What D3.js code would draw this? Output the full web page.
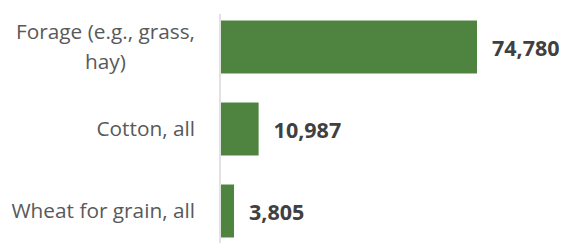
<!DOCTYPE html>
<html>
<head>
<meta charset="utf-8">
<script src="https://cdn.jsdelivr.net/npm/d3@7"></script>
<style>
  html, body { margin: 0; padding: 0; background: #fff; }
  svg { display: block; }
</style>
</head>
<body>
<svg id="chart" width="568" height="243"></svg>
<script>
const categories = [["Forage (e.g., grass,", "hay)"], ["Cotton, all"], ["Wheat for grain, all"]];
const categoryKeys = ["Forage", "Cotton", "Wheat"];
const values = [74780, 10987, 3805];

const svg = d3.select("#chart");
const axisX = 220;

const x = d3.scaleLinear().domain([0, 74780]).range([axisX + 1, 477]);
const y = d3.scaleBand().domain(categoryKeys).range([6, 252])
  .paddingInner(0.354).paddingOuter(0.177);

// bars
svg.selectAll("rect.bar").data(values).enter().append("rect")
  .attr("class", "bar")
  .attr("x", x(0))
  .attr("y", (d, i) => y(categoryKeys[i]))
  .attr("width", d => x(d) - x(0))
  .attr("height", y.bandwidth())
  .attr("fill", "#4E843F");

// axis line
svg.append("line")
  .attr("x1", axisX).attr("x2", axisX)
  .attr("y1", 14).attr("y2", 243)
  .attr("stroke", "#d9d9d9").attr("stroke-width", 1.5);

// category labels (block right-aligned, lines centred within block)
const labelFont = "'Open Sans', sans-serif";
const lineH = 30;
const rightEdge = 195;
const cats = svg.selectAll("text.cat").data(categories).enter().append("text")
  .attr("class", "cat")
  .attr("text-anchor", "middle")
  .attr("font-family", labelFont)
  .attr("font-size", 20.8)
  .attr("fill", "#595959");
cats.each(function(lines, i) {
  const g = d3.select(this);
  const cy = y(categoryKeys[i]) + y.bandwidth() / 2;
  const startY = cy - (lines.length - 1) * lineH / 2;
  const ts = g.selectAll("tspan").data(lines).enter().append("tspan")
    .attr("y", (l, j) => startY + j * lineH)
    .attr("dy", "0.35em")
    .text(l => l);
  let maxW = 0;
  ts.each(function() { maxW = Math.max(maxW, this.getComputedTextLength()); });
  ts.attr("x", rightEdge - maxW / 2);
});

// value labels
svg.selectAll("text.val").data(values).enter().append("text")
  .attr("class", "val")
  .attr("x", d => x(d) + 15)
  .attr("y", (d, i) => y(categoryKeys[i]) + y.bandwidth() / 2 + 1)
  .attr("dy", "0.35em")
  .attr("font-family", labelFont)
  .attr("font-size", 21.5)
  .attr("font-weight", "bold")
  .attr("fill", "#404040")
  .text(d => d3.format(",")(d));
</script>
</body>
</html>
